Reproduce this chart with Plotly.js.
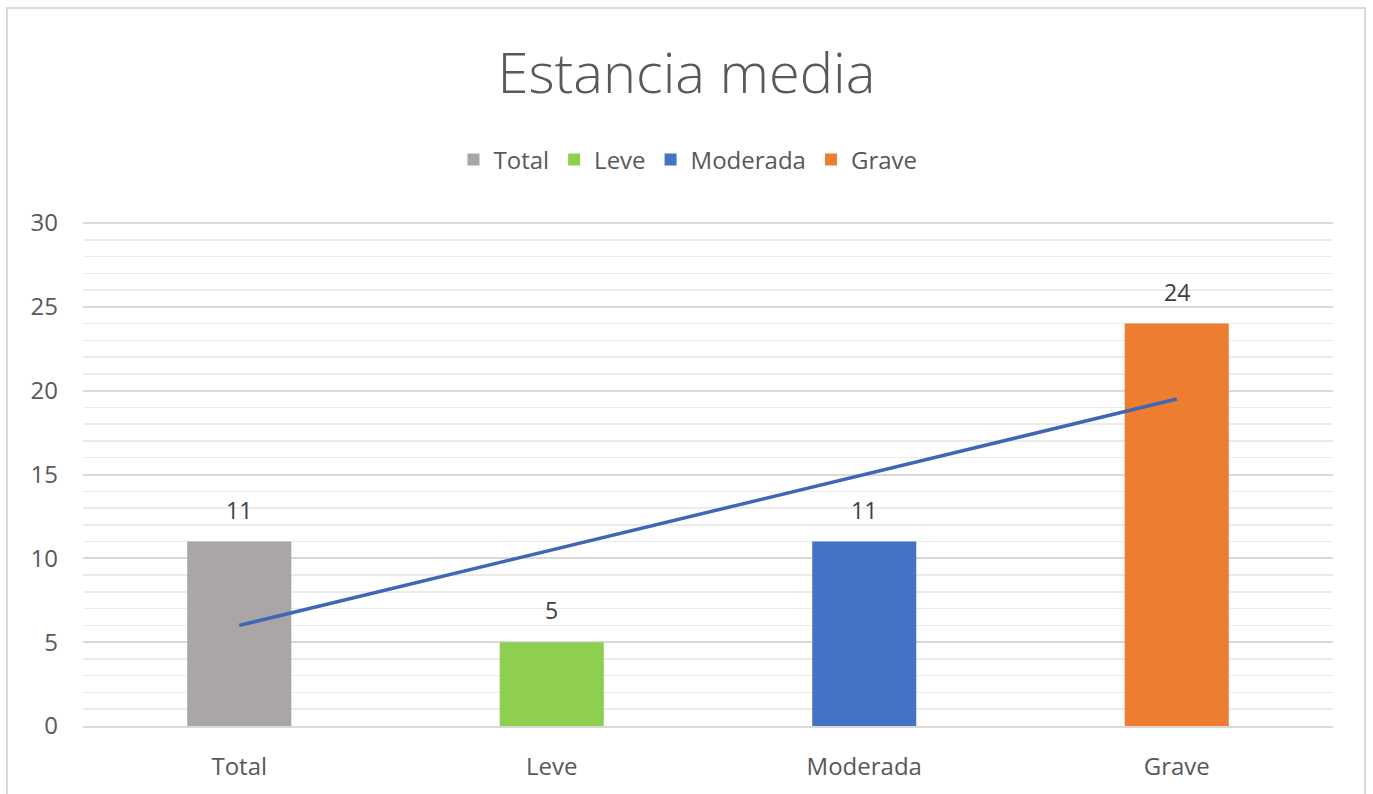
<!DOCTYPE html>
<html>
<head>
<meta charset="utf-8">
<script src="https://cdn.plot.ly/plotly-3.0.1.min.js"></script>
<style>
  html, body { margin: 0; padding: 0; background: #ffffff; }
  #frame { position: absolute; left: 6px; top: 7px; width: 1360px; height: 800px;
           border: 2px solid #d9d9d9; box-sizing: border-box; pointer-events: none; }
  #chart { position: absolute; left: 0; top: 0; width: 1373px; height: 794px; }
</style>
</head>
<body>
<div id="chart"></div>
<div id="frame"></div>
<script>
// Average length of stay by severity group
const categories = ['Total', 'Leve', 'Moderada', 'Grave'];
const stayValues = [11, 5, 11, 24];
// Linear trend across the four groups
const trendValues = [6, 10.5, 15, 19.5];
const yTicks = [0, 5, 10, 15, 20, 25, 30];

const barColors = ['#a9a6a5', '#8fcf4f', '#4472c4', '#ed7d31'];
const textGray = '#595959';
const fontFamily = 'Open Sans, Noto Sans, sans-serif';

const traces = categories.map((cat, i) => ({
  type: 'bar',
  name: cat,
  x: [cat],
  y: [stayValues[i]],
  width: 0.333,
  marker: { color: barColors[i] },
  hoverinfo: 'x+y'
}));

traces.push({
  type: 'scatter',
  mode: 'lines',
  x: categories,
  y: trendValues,
  line: { color: '#3f67b6', width: 3.5 },
  showlegend: false,
  hoverinfo: 'skip'
});

// Value labels sitting above each bar
const valueLabels = categories.map((cat, i) => ({
  x: cat,
  y: stayValues[i],
  xref: 'x',
  yref: 'y',
  text: String(stayValues[i]),
  showarrow: false,
  yanchor: 'bottom',
  yshift: 14,
  font: { size: 23, color: '#404040', family: fontFamily }
}));

const layout = {
  width: 1373,
  height: 794,
  margin: { l: 83, r: 40, t: 222, b: 68 },
  paper_bgcolor: 'rgba(0,0,0,0)',
  plot_bgcolor: 'rgba(0,0,0,0)',
  barmode: 'overlay',
  font: { family: fontFamily, color: textGray, size: 24 },
  title: {
    text: 'Estancia media',
    x: 0.5, xanchor: 'center',
    y: 1 - 73 / 794, yanchor: 'middle',
    font: { size: 56, color: textGray, family: 'Open Sans, sans-serif', weight: 300 }
  },
  legend: {
    orientation: 'h',
    x: 0.484, xanchor: 'center',
    y: 1.123, yanchor: 'middle',
    font: { size: 24, color: textGray },
    itemwidth: 30,
    traceorder: 'normal'
  },
  annotations: valueLabels,
  xaxis: {
    type: 'category',
    categoryorder: 'array',
    categoryarray: categories,
    showgrid: false,
    showline: true,
    linecolor: '#d9d9d9',
    linewidth: 2,
    ticks: '',
    tickfont: { size: 24, color: textGray },
    ticklabelstandoff: 18,
    zeroline: false,
    fixedrange: true
  },
  yaxis: {
    range: [0, 30.06],
    tickvals: yTicks,
    ticktext: yTicks.map(String),
    showgrid: true,
    gridcolor: '#d9d9d9',
    gridwidth: 2,
    zeroline: false,
    showline: false,
    ticks: '',
    tickfont: { size: 24, color: textGray },
    ticklabelstandoff: 24,
    minor: { dtick: 1, showgrid: true, gridcolor: '#ebebeb', gridwidth: 1.5 },
    fixedrange: true
  },
  showlegend: true
};

Plotly.newPlot('chart', traces, layout, { displayModeBar: false, staticPlot: true });
</script>
</body>
</html>
